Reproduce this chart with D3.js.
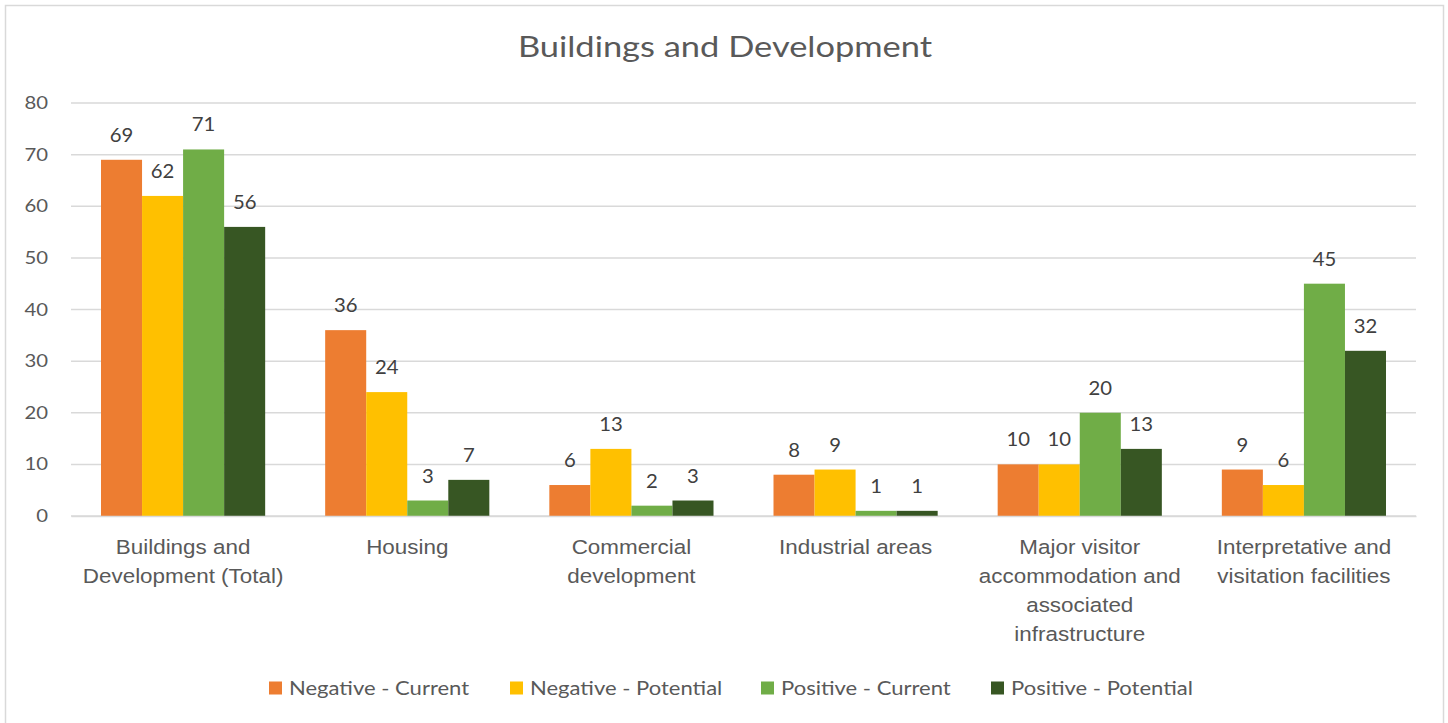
<!DOCTYPE html>
<html><head><meta charset="utf-8">
<script src="https://cdn.jsdelivr.net/npm/d3@7"></script>
<style>
html,body{margin:0;padding:0;background:#fff;}
svg{display:block;font-family:Lato,"Open Sans",sans-serif;}
</style></head>
<body>
<svg id="c" width="1448" height="723"></svg>
<script>
const categories = [
  ["Buildings and","Development (Total)"],
  ["Housing"],
  ["Commercial","development"],
  ["Industrial areas"],
  ["Major visitor","accommodation and","associated","infrastructure"],
  ["Interpretative and","visitation facilities"]
];
const seriesNames = ["Negative - Current","Negative - Potential","Positive - Current","Positive - Potential"];
const negativeCurrent   = [69, 36, 6, 8, 10, 9];
const negativePotential = [62, 24, 13, 9, 10, 6];
const positiveCurrent   = [71, 3, 2, 1, 20, 45];
const positivePotential = [56, 7, 3, 1, 13, 32];
const seriesValues = [negativeCurrent, negativePotential, positiveCurrent, positivePotential];
const colors = ["#ED7D31","#FFC000","#70AD47","#375623"];
const yTicks = [0,10,20,30,40,50,60,70,80];

(function(){
const svg = d3.select("#c");
const textCol = "#595959";

function addText(parent, x, y, str, size, sx, anchor, fill){
  const g = parent.append("g").attr("transform",`translate(${x},${y})`);
  return g.append("text").attr("transform",`scale(${sx},1)`)
    .attr("text-anchor",anchor).attr("font-size",size).attr("fill",fill).text(str);
}

svg.append("rect").attr("x",5.5).attr("y",5.5).attr("width",1438).attr("height",730)
  .attr("fill","#fff").attr("stroke","#d9d9d9").attr("stroke-width",1.5);

const pL = 71, pR = 1416, pT = 103, pB = 516;
const y = d3.scaleLinear().domain([0,80]).range([pB, pT]);
const x0 = d3.scaleBand().domain(d3.range(categories.length)).range([pL,pR]).padding(0);
const x1 = d3.scaleBand().domain(d3.range(seriesNames.length)).range([30, x0.bandwidth()-30]).padding(0);

addText(svg, 725, 57, "Buildings and Development", 28, 1.23, "middle", textCol);

svg.append("g").selectAll("line").data(yTicks).join("line")
  .attr("x1",pL).attr("x2",pR)
  .attr("y1",d=>y(d)).attr("y2",d=>y(d))
  .attr("stroke","#d9d9d9").attr("stroke-width",1.5);

const yAxis = d3.axisLeft(y).tickValues(yTicks).tickSize(0).tickPadding(0);
const ya = svg.append("g").attr("transform","translate(48,0)").call(yAxis);
ya.select(".domain").remove();
ya.selectAll("text").attr("font-size",17.5).attr("fill",textCol)
  .attr("font-family","Lato, 'Open Sans', sans-serif")
  .attr("transform","scale(1.16,1)");

const groups = svg.append("g").selectAll("g").data(categories).join("g")
  .attr("transform",(d,i)=>`translate(${x0(i)},0)`);
groups.each(function(c,i){
  const g = d3.select(this);
  seriesValues.forEach((vals,s)=>{
    g.append("rect").attr("x",x1(s)).attr("width",x1.bandwidth())
      .attr("y",y(vals[i])).attr("height",y(0)-y(vals[i])).attr("fill",colors[s]);
    addText(g, x1(s)+x1.bandwidth()/2, y(vals[i])-18, vals[i], 19.5, 1.04, "middle", "#404040");
  });
});

const xAxis = d3.axisBottom(x0).tickSize(0).tickFormat("");
const xa = svg.append("g").attr("transform",`translate(0,${pB})`).call(xAxis);
xa.select(".domain").attr("stroke","#d9d9d9").attr("stroke-width",1.5);
xa.selectAll(".tick").each(function(d){
  const t = d3.select(this).append("text").attr("fill",textCol).attr("font-size",19.5)
    .attr("text-anchor","middle").attr("y",38).attr("transform","scale(1.15,1)");
  categories[d].forEach((line,k)=>{
    t.append("tspan").attr("x",0).attr("dy",k===0?0:29).text(line);
  });
});

const legX = [269, 510, 761, 991];
const leg = svg.append("g").selectAll("g").data(seriesNames).join("g")
  .attr("transform",(d,i)=>`translate(${legX[i]},688)`);
leg.append("rect").attr("x",0).attr("y",-6.5).attr("width",13).attr("height",13).attr("fill",(d,i)=>colors[i]);
leg.each(function(d){ addText(d3.select(this), 20, 7, d, 19.5, 1.13, "start", textCol); });
})();
</script>
</body></html>
